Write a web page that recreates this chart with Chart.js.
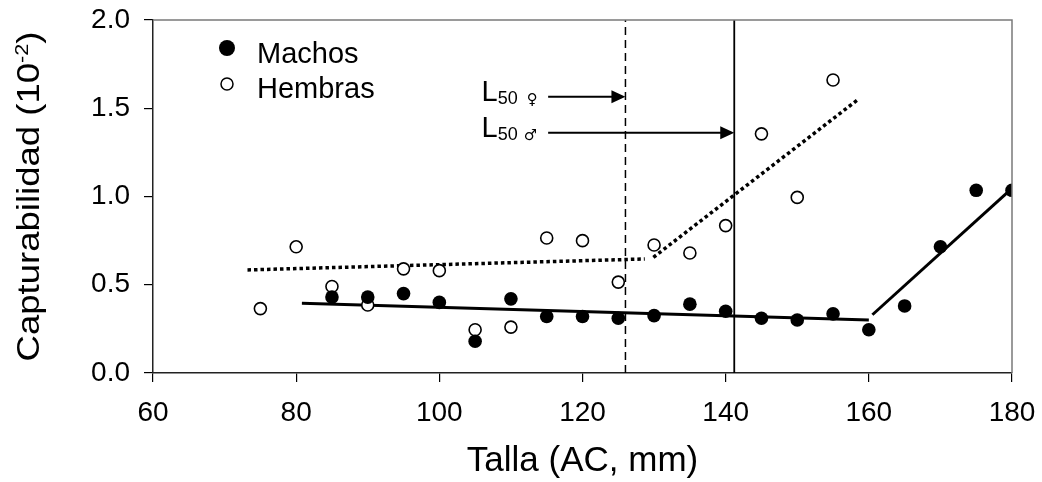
<!DOCTYPE html>
<html>
<head>
<meta charset="utf-8">
<script src="https://cdn.jsdelivr.net/npm/chart.js@4/dist/chart.umd.min.js"></script>
<style>
  html, body { margin: 0; padding: 0; background: #fff; }
  #chart { display: block; }
</style>
</head>
<body>
<canvas id="chart" width="1042" height="482"></canvas>
<script>
const FONT = '"Liberation Sans", Arial, Helvetica, sans-serif';

// Capturability by carapace width
const machosTalla = [85, 90, 95, 100, 105, 110, 115, 120, 125, 130, 135, 140, 145, 150, 155, 160, 165, 170, 175, 180];
const machosQ = [0.43, 0.43, 0.45, 0.40, 0.18, 0.42, 0.32, 0.32, 0.31, 0.325, 0.39, 0.35, 0.31, 0.30, 0.335, 0.245, 0.38, 0.715, 1.035, 1.035];
const hembrasTalla = [75, 80, 85, 90, 95, 100, 105, 110, 115, 120, 125, 130, 135, 140, 145, 150, 155];
const hembrasQ = [0.365, 0.715, 0.49, 0.385, 0.59, 0.58, 0.245, 0.26, 0.765, 0.75, 0.515, 0.725, 0.68, 0.835, 1.355, 0.995, 1.66];

// piecewise fits: [x0, y0, x1, y1]
const ajusteMachos = [[80.8, 0.395, 160, 0.30], [160.5, 0.33, 179.3, 1.02]];
const ajusteHembras = [[73.2, 0.584, 128.7, 0.646], [129.9, 0.655, 158.5, 1.55]];

// size at 50% maturity
const l50Hembras = 126;
const l50Machos = 141.2;
const flechas = [
  { sym: '\u2640', x0: 115.2, x1: l50Hembras, y: 1.565, labelX: 105.9, symGap: 4 },
  { sym: '\u2642', x0: 115.2, x1: l50Machos, y: 1.361, labelX: 105.9, symGap: 1 }
];

const xTicks = [60, 80, 100, 120, 140, 160, 180];
const yTicks = [0, 0.5, 1.0, 1.5, 2.0];

const pts = (xs, ys) => xs.map((x, i) => ({ x, y: ys[i] }));
const seg = s => [{ x: s[0], y: s[1] }, { x: s[2], y: s[3] }];

const lineSets = [];
ajusteMachos.forEach(s => lineSets.push({ data: seg(s), borderColor: '#000', borderWidth: 3 }));
ajusteHembras.forEach(s => lineSets.push({ data: seg(s), borderColor: '#000', borderWidth: 3.5, borderDash: [3.5, 3] }));
lineSets.push({ data: [{ x: l50Hembras, y: 0 }, { x: l50Hembras, y: 2 }], borderColor: '#000', borderWidth: 1.5, borderDash: [8, 5] });
lineSets.push({ data: [{ x: l50Machos, y: 0 }, { x: l50Machos, y: 2 }], borderColor: '#000', borderWidth: 1.8 });
flechas.forEach(f => lineSets.push({ data: [{ x: f.x0, y: f.y }, { x: f.x1 - 1.5, y: f.y }], borderColor: '#000', borderWidth: 2 }));
lineSets.forEach(d => Object.assign(d, { showLine: true, pointRadius: 0, fill: false, order: 2, borderCapStyle: 'butt' }));

// no extra room for overflowing tick labels; the layout padding sets the plot box
const noOverflow = s => { s.paddingTop = s.paddingBottom = s.paddingLeft = s.paddingRight = 0; };

// frame, legend, axis title with superscript, arrow heads and L50 labels
const extras = {
  id: 'extras',
  afterDraw(chart) {
    const { ctx, chartArea: a, scales: { x, y } } = chart;
    ctx.save();

    ctx.strokeStyle = '#7a7a7a';
    ctx.lineWidth = 1.5;
    ctx.beginPath();
    ctx.moveTo(a.left, a.top);
    ctx.lineTo(a.right, a.top);
    ctx.lineTo(a.right, a.bottom);
    ctx.stroke();

    // legend
    ctx.fillStyle = '#000';
    ctx.beginPath();
    ctx.arc(227, 48, 8, 0, Math.PI * 2);
    ctx.fill();
    ctx.strokeStyle = '#000';
    ctx.lineWidth = 1.5;
    ctx.beginPath();
    ctx.arc(227, 84, 6, 0, Math.PI * 2);
    ctx.stroke();
    ctx.font = '29px ' + FONT;
    ctx.textBaseline = 'alphabetic';
    ctx.textAlign = 'left';
    ctx.fillText('Machos', 257, 63);
    ctx.fillText('Hembras', 257, 98);

    // arrows and labels
    flechas.forEach(f => {
      const px = x.getPixelForValue(f.x1);
      const py = y.getPixelForValue(f.y);
      ctx.beginPath();
      ctx.moveTo(px, py);
      ctx.lineTo(px - 14, py - 6.5);
      ctx.lineTo(px - 14, py + 6.5);
      ctx.closePath();
      ctx.fill();

      const lx = x.getPixelForValue(f.labelX);
      const base = py + 4;
      ctx.font = '29px ' + FONT;
      ctx.fillText('L', lx, base);
      const w = ctx.measureText('L').width;
      ctx.font = '18px ' + FONT;
      ctx.fillText('50', lx + w, base + 3);
      const w2 = ctx.measureText('50 ').width;
      ctx.font = '15px "DejaVu Sans", ' + FONT;
      ctx.fillText(f.sym, lx + w + w2 + f.symGap, base + 3);
    });

    // y axis title, stretched along its length
    const main = 'Capturabilidad (10';
    const sup = '-2';
    ctx.font = '32px ' + FONT;
    const wMain = ctx.measureText(main).width;
    const wClose = ctx.measureText(')').width;
    ctx.font = '19px ' + FONT;
    const wSup = ctx.measureText(sup).width;
    const total = wMain + wSup + wClose;
    ctx.translate(39, (a.top + a.bottom) / 2);
    ctx.rotate(-Math.PI / 2);
    ctx.scale(330 / total, 1);
    let cx = -total / 2;
    ctx.font = '32px ' + FONT;
    ctx.fillText(main, cx, 0);
    cx += wMain;
    ctx.font = '19px ' + FONT;
    ctx.fillText(sup, cx, -11);
    cx += wSup;
    ctx.font = '32px ' + FONT;
    ctx.fillText(')', cx, 0);

    ctx.restore();
  }
};

new Chart(document.getElementById('chart'), {
  type: 'scatter',
  data: {
    datasets: [
      { label: 'Machos', data: pts(machosTalla, machosQ), backgroundColor: '#000', borderWidth: 0, pointRadius: 6.8, order: 0 },
      { label: 'Hembras', data: pts(hembrasTalla, hembrasQ), backgroundColor: '#fff', borderColor: '#000', borderWidth: 1.6, pointRadius: 6, order: 1 },
      ...lineSets
    ]
  },
  options: {
    responsive: false,
    animation: false,
    layout: { padding: { top: 20, right: 30, left: 0, bottom: 0 } },
    plugins: { legend: { display: false }, tooltip: { enabled: false } },
    scales: {
      x: {
        type: 'linear', min: 60, max: 180,
        afterBuildTicks: s => { s.ticks = xTicks.map(v => ({ value: v })); },
        afterFit: s => { s.height = 109; noOverflow(s); },
        ticks: { color: '#000', font: { family: FONT, size: 28 }, padding: 14 },
        grid: { drawOnChartArea: false, tickLength: 9, color: '#000', lineWidth: 1.2 },
        border: { color: '#222', width: 1.5 },
        title: { display: true, text: 'Talla (AC, mm)', color: '#000', font: { family: FONT, size: 35 }, padding: { top: 6, bottom: 0 } }
      },
      y: {
        min: 0, max: 2,
        afterBuildTicks: s => { s.ticks = yTicks.map(v => ({ value: v })); },
        afterFit: s => { s.width = 153; noOverflow(s); },
        ticks: { color: '#000', font: { family: FONT, size: 28 }, padding: 14, callback: v => v.toFixed(1) },
        grid: { drawOnChartArea: false, tickLength: 9, color: '#000', lineWidth: 1.2 },
        border: { color: '#222', width: 1.5 }
      }
    }
  },
  plugins: [extras]
});
</script>
</body>
</html>
